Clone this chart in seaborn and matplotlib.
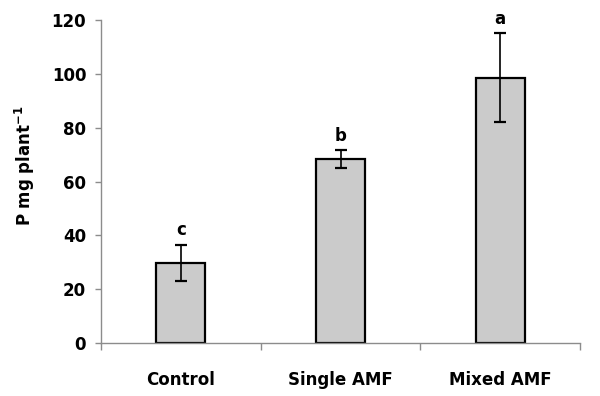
import matplotlib
matplotlib.use("Agg")
import matplotlib.pyplot as plt
import seaborn as sns
import pandas as pd

# values
treatments = ["Control", "Single AMF", "Mixed AMF"]
p_content = [29.8, 68.4, 98.6]
p_error = [6.7, 3.3, 16.6]
letters = ["c", "b", "a"]

sns.set_style("white")
plt.rcParams["font.family"] = ["DejaVu Sans"]
plt.rcParams["mathtext.fontset"] = "dejavusans"
plt.rcParams["text.color"] = "black"
plt.rcParams["axes.labelcolor"] = "black"

df = pd.DataFrame({"treatment": treatments, "P": p_content, "err": p_error})

fig = plt.figure(figsize=(6, 3.96), dpi=100)
ax = fig.add_axes([0.168, 0.134, 0.799, 0.815])

sns.barplot(data=df, x="treatment", y="P", order=treatments, color="#cbcbcb",
            edgecolor="black", linewidth=1.6, width=0.31, saturation=1, ax=ax)
ax.errorbar(range(len(treatments)), df["P"], yerr=df["err"], fmt="none",
            ecolor="black", elinewidth=1.2, capsize=4.5, capthick=1.6)

for i, (v, e, lab) in enumerate(zip(p_content, p_error, letters)):
    ax.annotate(lab, (i, v + e), xytext=(0, 4), textcoords="offset points",
                ha="center", va="bottom", fontsize=12, fontweight="bold",
                color="black")

ax.set_ylim(0, 120)
ax.set_yticks(range(0, 121, 20))
ax.set_xlim(-0.5, 2.5)
ax.set_xlabel("")
ax.set_ylabel(r"P mg plant$^{\mathbf{-1}}$", fontsize=12, fontweight="bold",
              color="black")
ax.yaxis.set_label_coords(-0.133, 0.55)

sns.despine(ax=ax)
for s in ["left", "bottom"]:
    ax.spines[s].set_color("#8c8c8c")
    ax.spines[s].set_linewidth(1.0)

ax.tick_params(axis="y", which="major", left=True, length=4.5, width=1.0,
               color="#8c8c8c", labelcolor="black", labelsize=12, pad=6)
ax.tick_params(axis="x", which="major", bottom=False, labelcolor="black",
               labelsize=12, pad=17)
ax.set_xticks([-0.5, 0.5, 1.5, 2.5], minor=True)
ax.tick_params(axis="x", which="minor", bottom=True, length=5, width=1.0,
               color="#8c8c8c")
for t in ax.get_xticklabels() + ax.get_yticklabels():
    t.set_fontweight("bold")

fig.savefig("out.png", dpi=100)
